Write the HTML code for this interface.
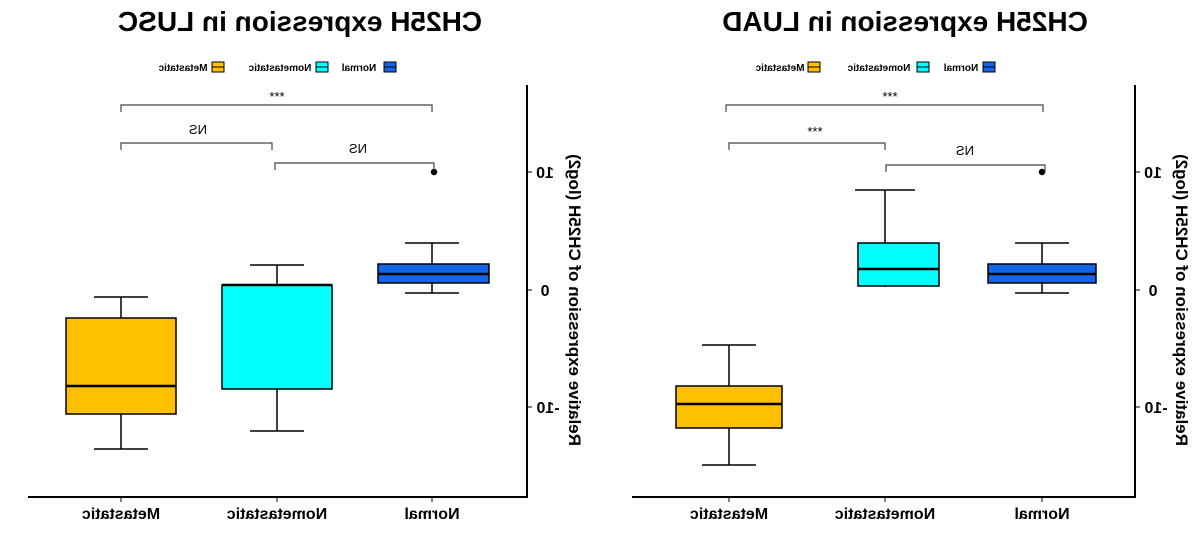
<!DOCTYPE html>
<html><head><meta charset="utf-8"><style>
body{margin:0;background:#fff}
svg{display:block;font-family:"Liberation Sans",Arial,sans-serif}
.t{font-weight:bold;font-size:28px}
.c{font-weight:bold;font-size:16px}
.tk{font-weight:bold;font-size:16px}
.yl{font-weight:bold;font-size:17px}
.lg{font-size:10px;font-weight:bold}
.s{font-size:13px}
</style></head><body>
<svg width="1200" height="535" viewBox="0 0 1200 535">
<g stroke="#000" fill="none">
<line x1="527" y1="85" x2="527" y2="498" stroke-width="2"/>
<line x1="28" y1="497" x2="528" y2="497" stroke-width="2"/>
<line x1="527" y1="172" x2="532" y2="172"/><line x1="527" y1="290" x2="532" y2="290"/><line x1="527" y1="407" x2="532" y2="407"/>
<line x1="121" y1="497" x2="121" y2="502"/><line x1="277" y1="497" x2="277" y2="502"/><line x1="432" y1="497" x2="432" y2="502"/>
<line x1="1135" y1="85" x2="1135" y2="498" stroke-width="2"/>
<line x1="632" y1="497" x2="1136" y2="497" stroke-width="2"/>
<line x1="1135" y1="172" x2="1140" y2="172"/><line x1="1135" y1="290" x2="1140" y2="290"/><line x1="1135" y1="407" x2="1140" y2="407"/>
<line x1="729" y1="497" x2="729" y2="502"/><line x1="885" y1="497" x2="885" y2="502"/><line x1="1042" y1="497" x2="1042" y2="502"/>
</g>
<g stroke="#000" stroke-width="1.5">
<line x1="121" y1="297" x2="121" y2="449"/><line x1="94" y1="297" x2="148" y2="297"/><line x1="94" y1="449" x2="148" y2="449"/>
<rect x="66" y="318" width="110" height="96" fill="#FFC000"/><line x1="66" y1="386" x2="176" y2="386" stroke-width="2.5"/>
<line x1="277" y1="265" x2="277" y2="431"/><line x1="250" y1="265" x2="304" y2="265"/><line x1="250" y1="431" x2="304" y2="431"/>
<rect x="222" y="285" width="110" height="104" fill="#00FFFF"/><line x1="222" y1="285" x2="332" y2="285" stroke-width="2.5"/>
<line x1="432" y1="243" x2="432" y2="293"/><line x1="405" y1="243" x2="459" y2="243"/><line x1="405" y1="293" x2="459" y2="293"/>
<rect x="378" y="264" width="111" height="19" fill="#1565E8"/><line x1="378" y1="274" x2="489" y2="274" stroke-width="2.5"/>
<circle cx="434" cy="172" r="2.5" fill="#000"/>
<line x1="729" y1="345" x2="729" y2="465"/><line x1="702" y1="345" x2="756" y2="345"/><line x1="702" y1="465" x2="756" y2="465"/>
<rect x="676" y="386" width="106" height="42" fill="#FFC000"/><line x1="676" y1="404" x2="782" y2="404" stroke-width="2.5"/>
<line x1="885" y1="190" x2="885" y2="287"/><line x1="855" y1="190" x2="915" y2="190"/>
<rect x="858" y="243" width="81" height="43" fill="#00FFFF"/><line x1="858" y1="269" x2="939" y2="269" stroke-width="2.5"/>
<line x1="1042" y1="243" x2="1042" y2="293"/><line x1="1015" y1="243" x2="1069" y2="243"/><line x1="1015" y1="293" x2="1069" y2="293"/>
<rect x="988" y="264" width="108" height="19" fill="#1565E8"/><line x1="988" y1="274" x2="1096" y2="274" stroke-width="2.5"/>
<circle cx="1042" cy="172" r="2.5" fill="#000"/>
</g>
<g stroke="#444" stroke-width="1.2" fill="none">
<polyline points="121,112 121,105 432,105 432,112"/>
<polyline points="121,150 121,143 272,143 272,150"/>
<polyline points="275,170 275,163 434,163 434,170"/>
<polyline points="726,112 726,105 1043,105 1043,112"/>
<polyline points="729,150 729,143 885,143 885,150"/>
<polyline points="886,172 886,165 1045,165 1045,172"/>
</g>
<g text-anchor="middle">
<text class="s" transform="translate(277,101) scale(-1,1)">***</text>
<text class="s" transform="translate(198,134) scale(-1,1)">NS</text>
<text class="s" transform="translate(358,153) scale(-1,1)">NS</text>
<text class="s" transform="translate(890,101) scale(-1,1)">***</text>
<text class="s" transform="translate(815,136) scale(-1,1)">***</text>
<text class="s" transform="translate(965,155) scale(-1,1)">NS</text>
<text class="t" transform="translate(300,31) scale(-1,1)">CH25H expression in LUSC</text>
<text class="t" transform="translate(905,31) scale(-1,1)">CH25H expression in LUAD</text>
<text class="c" transform="translate(121,519) scale(-1,1)">Metastatic</text>
<text class="c" transform="translate(277,519) scale(-1,1)">Nometastatic</text>
<text class="c" transform="translate(432,519) scale(-1,1)">Normal</text>
<text class="c" transform="translate(729,519) scale(-1,1)">Metastatic</text>
<text class="c" transform="translate(885,519) scale(-1,1)">Nometastatic</text>
<text class="c" transform="translate(1042,519) scale(-1,1)">Normal</text>
<text class="tk" transform="translate(545,178) scale(-1,1)">10</text>
<text class="tk" transform="translate(545,296) scale(-1,1)">0</text>
<text class="tk" transform="translate(548,413) scale(-1,1)">-10</text>
<text class="tk" transform="translate(1153,178) scale(-1,1)">10</text>
<text class="tk" transform="translate(1153,296) scale(-1,1)">0</text>
<text class="tk" transform="translate(1156,413) scale(-1,1)">-10</text>
<text class="yl" transform="translate(569,300) scale(-1,1) rotate(-90)">Relative expression of CH25H (log2)</text>
<text class="yl" transform="translate(1176,300) scale(-1,1) rotate(-90)">Relative expression of CH25H (log2)</text>
<text class="lg" transform="translate(359,71) scale(-1,1)">Normal</text>
<text class="lg" transform="translate(280,71) scale(-1,1)">Nometastatic</text>
<text class="lg" transform="translate(183,71) scale(-1,1)">Metastatic</text>
<text class="lg" transform="translate(961,71) scale(-1,1)">Normal</text>
<text class="lg" transform="translate(879,71) scale(-1,1)">Nometastatic</text>
<text class="lg" transform="translate(780,71) scale(-1,1)">Metastatic</text>
</g>
<g stroke="#000" stroke-width="1">
<rect x="384" y="62" width="12" height="10" fill="#1565E8"/><line x1="384" y1="67" x2="396" y2="67"/>
<rect x="316" y="62" width="12" height="10" fill="#00FFFF"/><line x1="316" y1="67" x2="328" y2="67"/>
<rect x="212" y="62" width="12" height="10" fill="#FFC000"/><line x1="212" y1="67" x2="224" y2="67"/>
<rect x="983" y="62" width="12" height="10" fill="#1565E8"/><line x1="983" y1="67" x2="995" y2="67"/>
<rect x="917" y="62" width="12" height="10" fill="#00FFFF"/><line x1="917" y1="67" x2="929" y2="67"/>
<rect x="808" y="62" width="12" height="10" fill="#FFC000"/><line x1="808" y1="67" x2="820" y2="67"/>
</g>
</svg>
</body></html>
